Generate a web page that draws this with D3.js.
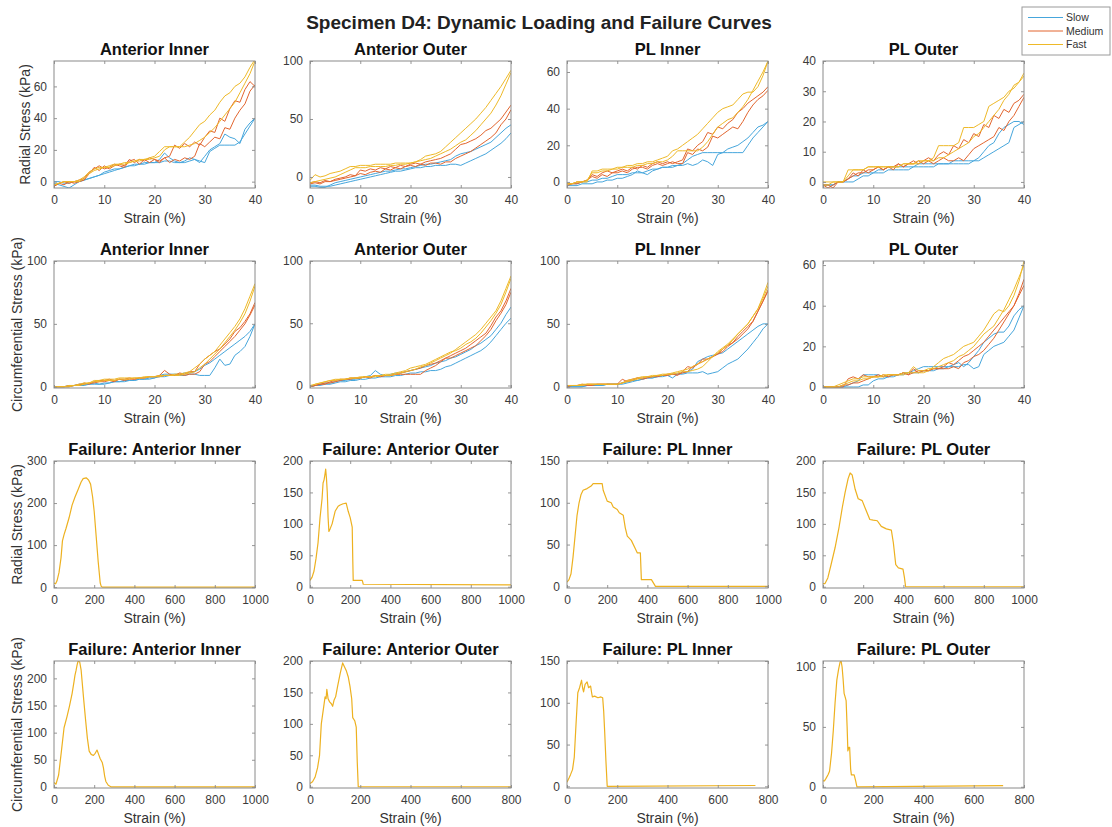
<!DOCTYPE html>
<html>
<head>
<meta charset="utf-8">
<script src="https://cdn.jsdelivr.net/npm/d3@7"></script>
<style>
  body { margin: 0; background: #fff; }
  svg { display: block; font-family: "Liberation Sans", Arial, Helvetica, sans-serif; }
</style>
</head>
<body>
<svg id="fig" width="1112" height="827"></svg>
<script>
// ---------------- Loading tests: strain grid (%) ----------------
const strainLoading = [0,1,2,3,4,5,6,7,8,9,10,11,12,13,14,15,16,17,18,19,20,21,22,23,24,25,26,27,28,29,30,31,32,33,34,35,36,37,38,39,40];

// Radial stress (kPa), Anterior Inner
const radAntInnerSlow1 = [-1,-2,-3,-4,-2,0,1,2,3,4,6,7,8,8,9,10,11,11,12,12,12,14,18,15,13,12,12,13,14,13,12,19,21,23,23,23,23,25,30,35,40];
const radAntInnerSlow2 = [0,0,-1,-1,0,0,1,2,3,4,5,6,7,8,9,10,10,11,11,12,12,12,13,13,12,12,13,15,14,12,16,20,22,24,30,28,27,24,33,37,40];
const radAntInnerMed1  = [-3,-1,-2,0,-1,0,1,5,9,7,10,8,10,11,10,14,12,14,13,15,14,12,15,16,23,21,24,22,25,23,28,32,31,40,38,46,51,50,58,63,60];
const radAntInnerMed2  = [-3,-1,0,-1,0,1,2,6,8,10,8,9,11,10,9,13,14,11,14,12,14,13,15,12,14,13,15,14,16,24,22,25,28,27,34,33,40,45,49,57,61];
const radAntInnerFast1 = [-2,-1,0,0,0,1,3,6,8,9,9,10,11,11,12,12,13,14,14,15,16,19,22,22,22,22,25,28,32,36,38,42,45,50,54,56,60,62,66,72,77];
const radAntInnerFast2 = [-2,-1,0,0,0,0,2,5,7,8,9,9,10,11,11,12,13,13,14,14,15,16,20,22,22,22,22,23,24,26,28,31,34,38,42,46,50,56,62,68,76];

// Radial stress (kPa), Anterior Outer
const radAntOuterSlow1 = [-8,-8,-9,-9,-7,-5,-4,-3,-2,-1,0,1,2,3,4,5,5,6,7,7,8,9,10,11,11,12,13,14,15,18,20,21,22,24,26,28,30,34,38,42,45];
const radAntOuterSlow2 = [-7,-7,-8,-8,-8,-7,-6,-5,-4,-3,-2,-1,0,1,2,3,4,5,5,6,7,8,8,9,9,10,10,10,11,11,10,12,14,16,18,20,23,26,29,33,38];
const radAntOuterMed1  = [-5,-4,-5,-3,-4,-2,-1,0,2,1,6,5,7,6,8,7,9,8,10,9,11,12,11,13,14,15,16,18,20,24,28,29,31,33,36,40,42,46,50,56,62];
const radAntOuterMed2  = [-6,-5,-6,-4,-4,-3,-2,-1,0,1,3,2,4,5,4,7,6,8,7,9,10,9,11,10,12,12,11,13,13,16,18,20,22,25,28,31,34,38,45,50,58];
const radAntOuterFast1 = [-3,2,0,1,3,4,5,7,9,9,10,10,10,11,11,11,11,12,12,12,12,13,15,18,19,20,22,26,30,34,38,42,46,50,55,60,66,72,78,85,92];
const radAntOuterFast2 = [-5,-4,-3,-2,-1,0,2,4,6,8,8,8,9,9,9,9,10,10,11,11,12,13,14,15,16,18,20,22,24,27,30,32,36,40,45,50,55,62,70,80,90];

// Radial stress (kPa), PL Inner
const radPLInnerSlow1 = [-2,-2,-2,-1,-1,-1,0,0,1,1,2,2,3,4,6,5,4,6,7,8,8,8,9,9,10,9,10,12,11,9,15,16,18,19,20,22,24,27,30,31,33];
const radPLInnerSlow2 = [-1,-1,-1,0,0,1,1,2,2,3,4,4,4,5,5,5,6,7,7,8,8,9,9,10,12,14,15,16,16,16,16,16,16,16,16,16,20,24,27,30,33];
const radPLInnerMed1  = [-2,-1,-1,0,1,4,3,5,6,5,6,7,6,8,7,9,8,10,11,10,11,10,11,12,18,17,20,22,27,26,30,29,32,34,38,40,43,45,47,49,52];
const radPLInnerMed2  = [-1,-1,0,0,1,3,2,4,3,5,5,6,5,7,8,8,7,9,10,9,10,11,10,10,16,15,18,17,19,25,24,26,28,30,29,33,38,42,45,47,50];
const radPLInnerFast1 = [-1,-1,0,0,0,6,6,7,7,7,8,8,9,9,10,10,11,11,12,13,14,17,18,20,22,24,26,29,32,35,38,40,41,42,45,48,49,49,52,58,66];
const radPLInnerFast2 = [-1,-1,0,0,1,5,5,6,6,7,7,8,8,8,9,9,10,10,11,11,12,14,17,17,17,17,17,19,22,26,30,32,34,35,38,41,45,50,55,60,66];

// Radial stress (kPa), PL Outer
const radPLOuterSlow1 = [-1,-1,-1,0,0,1,2,2,3,3,3,4,4,5,5,5,5,5,5,6,6,6,6,6,6,6,7,7,7,7,7,7,8,9,10,11,12,13,18,19,20];
const radPLOuterSlow2 = [-1,-1,-1,0,0,0,0,1,2,2,3,3,3,4,4,4,4,4,5,5,5,5,5,6,6,6,6,6,6,6,7,8,10,12,13,16,18,19,20,20,19];
const radPLOuterMed1  = [-1,-2,-1,0,0,1,3,2,4,3,4,5,4,5,4,6,5,6,7,6,7,8,7,9,10,9,12,11,14,13,16,15,19,18,22,21,24,23,26,27,29];
const radPLOuterMed2  = [-1,-1,-2,0,0,1,2,3,3,4,4,5,4,5,5,6,5,6,6,7,6,7,6,7,8,7,7,8,7,9,11,12,13,14,15,18,17,20,22,25,28];
const radPLOuterFast1 = [-1,-1,0,0,0,4,4,4,4,5,5,5,5,5,5,5,6,6,6,6,7,7,8,12,12,12,12,13,18,18,18,19,20,25,26,27,28,30,31,33,36];
const radPLOuterFast2 = [0,0,0,0,0,2,4,4,4,5,5,5,5,5,5,5,6,6,6,7,7,7,7,8,8,9,10,11,12,13,15,16,18,20,22,24,27,29,32,33,35];

// Circumferential stress (kPa), Anterior Inner
const circAntInnerSlow1 = [0,0,0,1,1,2,2,2,3,2,2,3,4,4,5,5,5,6,6,7,7,8,8,9,9,9,9,10,10,9,9,9,15,22,17,18,25,28,32,40,50];
const circAntInnerSlow2 = [0,0,0,0,1,1,1,2,2,2,3,3,4,4,4,5,5,6,6,6,7,9,10,10,10,10,11,11,12,14,17,19,22,25,28,31,34,37,40,44,50];
const circAntInnerMed1  = [0,0,0,1,1,1,3,2,4,5,5,6,5,6,6,7,6,7,7,8,8,9,13,10,9,11,10,12,12,18,22,25,28,30,34,38,44,47,52,58,67];
const circAntInnerMed2  = [0,0,0,0,1,2,2,3,3,4,4,5,4,6,5,6,6,7,7,8,8,8,9,9,9,10,9,10,10,12,18,20,24,28,32,36,40,45,50,57,65];
const circAntInnerFast1 = [0,0,0,0,1,1,2,3,5,5,6,6,6,7,7,7,7,7,8,8,8,9,9,9,10,10,11,12,15,18,22,25,28,33,38,43,48,54,62,72,82];
const circAntInnerFast2 = [0,0,0,1,1,2,3,3,4,4,5,5,5,6,6,6,7,7,7,8,8,8,9,9,9,9,10,11,12,15,18,22,26,30,35,40,45,51,58,68,80];

// Circumferential stress (kPa), Anterior Outer
const circAntOuterSlow1 = [-1,0,1,2,2,3,4,4,5,5,6,7,8,12,9,8,9,10,10,11,12,13,14,15,16,18,19,20,22,23,25,27,29,32,34,37,40,45,50,57,63];
const circAntOuterSlow2 = [-1,0,0,1,1,2,3,3,4,4,5,5,6,6,7,7,7,8,8,9,10,10,11,11,12,12,13,15,16,18,20,22,24,26,28,31,35,40,45,50,54];
const circAntOuterMed1  = [-1,0,1,2,2,3,4,5,5,6,6,7,6,8,7,8,8,9,10,11,12,13,14,16,17,18,20,22,24,26,28,30,33,36,39,42,48,55,60,68,78];
const circAntOuterMed2  = [-1,0,1,1,3,4,5,5,6,6,6,7,7,8,8,8,8,9,9,9,9,9,9,12,14,16,19,22,22,24,26,28,30,32,36,40,45,52,58,65,75];
const circAntOuterFast1 = [-1,1,2,3,4,4,5,5,6,6,6,7,7,7,8,8,8,9,10,11,12,13,15,16,18,20,22,24,26,29,32,35,38,41,45,50,55,60,68,78,88];
const circAntOuterFast2 = [0,1,2,3,4,5,5,5,6,6,7,7,7,8,8,9,9,10,11,12,14,15,16,17,19,21,23,25,27,28,30,33,35,38,42,47,52,58,65,75,86];

// Circumferential stress (kPa), PL Inner
const circPLInnerSlow1 = [0,0,0,0,1,1,1,1,2,2,2,3,4,5,5,6,7,7,8,8,9,7,10,11,12,14,20,22,24,25,26,27,30,33,36,39,42,45,48,50,50];
const circPLInnerSlow2 = [0,0,0,0,1,1,1,1,2,2,2,2,3,4,5,6,7,7,8,9,9,10,10,10,11,11,11,12,10,11,12,15,18,20,22,26,30,35,40,46,50];
const circPLInnerMed1  = [1,1,1,2,1,1,2,2,2,2,2,6,4,5,7,6,7,8,8,9,10,10,9,12,16,15,18,20,22,24,26,30,33,35,38,42,46,52,60,68,77];
const circPLInnerMed2  = [0,1,1,1,2,2,2,2,2,2,2,3,5,6,7,7,8,8,9,9,9,10,10,11,12,16,18,22,22,24,26,28,32,35,40,44,48,52,60,68,76];
const circPLInnerFast1 = [1,1,1,2,2,2,2,2,2,2,2,3,4,5,6,7,8,8,9,9,10,11,12,13,14,16,18,20,22,24,27,30,33,37,42,46,50,56,62,72,83];
const circPLInnerFast2 = [1,1,1,1,2,2,2,2,2,2,2,3,5,6,7,8,8,9,9,10,10,10,11,12,12,13,14,16,20,24,28,31,34,38,42,46,50,56,62,70,80];

// Circumferential stress (kPa), PL Outer
const circPLOuterSlow1 = [0,0,0,0,0,1,2,3,6,6,6,6,5,5,6,6,7,7,8,9,10,10,10,10,10,10,11,12,10,12,15,18,22,24,26,27,27,30,35,38,40];
const circPLOuterSlow2 = [0,0,0,0,0,0,0,0,1,1,3,4,4,5,5,6,6,7,7,7,8,8,8,9,9,10,10,10,11,11,9,10,16,18,20,21,22,25,28,34,40];
const circPLOuterMed1  = [0,0,0,0,0,4,5,4,6,5,5,6,5,6,6,6,7,6,9,7,8,8,9,9,10,12,11,13,15,16,18,20,22,25,28,31,34,37,40,46,53];
const circPLOuterMed2  = [0,0,0,0,1,1,2,2,3,4,5,5,6,5,6,6,7,6,7,8,8,8,9,9,9,9,10,9,12,13,15,16,18,21,24,28,32,36,40,45,50];
const circPLOuterFast1 = [0,0,0,0,1,2,3,3,4,4,5,5,5,6,6,6,6,7,7,7,7,8,10,12,14,15,16,18,20,21,22,25,28,32,36,38,37,40,45,52,62];
const circPLOuterFast2 = [0,0,0,1,2,3,4,4,5,5,5,5,6,6,6,6,7,7,10,8,8,9,9,10,11,12,13,15,16,18,20,23,26,28,30,34,38,43,48,54,60];

// ---------------- Failure tests ----------------
const failRadAntInnerStrain = [0,8,15,25,35,42,50,60,75,90,105,120,135,145,160,172,182,192,200,210,220,230,235,240,1000];
const failRadAntInnerStress = [10,8,15,35,70,110,125,140,165,195,215,232,250,258,260,255,245,215,180,120,60,10,2,0,0];

const failRadAntOuterStrain = [0,10,20,30,40,50,60,65,70,75,78,82,86,90,94,100,110,125,140,150,165,180,190,200,210,213,215,260,265,1000];
const failRadAntOuterStress = [10,15,25,45,70,110,140,165,170,180,187,172,150,110,88,92,100,120,128,130,132,133,120,110,95,40,10,10,4,3];

const failRadPLInnerStrain = [0,10,20,30,40,50,60,70,80,100,120,130,150,175,180,200,220,230,250,260,280,290,300,320,340,350,365,370,420,435,440,1000];
const failRadPLInnerStress = [5,8,15,35,60,85,100,110,115,117,120,123,123,123,115,102,100,95,92,88,85,70,60,55,45,40,40,8,8,2,0,0];

const failRadPLOuterStrain = [0,10,24,40,60,80,96,110,125,135,145,160,175,195,210,233,250,270,290,315,340,350,362,375,398,405,411,1000];
const failRadPLOuterStress = [5,5,14,35,62,95,126,150,172,181,178,155,140,137,125,107,106,105,96,92,90,70,35,30,28,15,0,0];

const failCircAntInnerStrain = [0,10,23,35,50,65,77,90,100,104,110,115,120,128,135,148,158,166,175,185,196,205,214,222,230,240,246,252,258,270,285,1000];
const failCircAntInnerStress = [8,5,22,60,109,130,149,172,195,205,215,225,232,230,215,160,120,90,66,60,58,62,68,60,52,45,35,20,10,3,0,0];

const failCircAntOuterStrain = [0,10,20,30,38,45,52,60,64,67,72,78,85,90,96,102,110,120,130,138,145,152,159,166,170,178,184,188,192,800];
const failCircAntOuterStress = [5,8,15,30,50,100,120,143,140,155,140,135,132,128,138,143,160,180,197,190,184,175,160,140,110,105,95,40,0,0];

const failCircPLInnerStrain = [0,8,14,22,29,36,43,50,58,62,66,72,80,86,94,98,101,110,123,135,142,146,150,155,160,750];
const failCircPLInnerStress = [5,10,14,20,35,75,112,118,127,118,113,122,125,118,120,112,107,108,106,107,106,90,65,30,0,1];

const failCircPLOuterStrain = [0,6,12,20,26,34,41,48,55,62,68,72,76,80,84,88,92,96,99,103,106,110,113,124,130,135,717];
const failCircPLOuterStress = [5,5,7,10,13,28,47,70,89,98,104,105,100,90,78,75,72,50,30,33,33,15,10,10,5,0,1];

// ---------------- Labels ----------------
const figureTitle = "Specimen D4: Dynamic Loading and Failure Curves";
const regionNames = ["Anterior Inner", "Anterior Outer", "PL Inner", "PL Outer"];
const rateNames = ["Slow", "Medium", "Fast"];
const rowYLabels = ["Radial Stress (kPa)", "Circumferential Stress (kPa)", "Radial Stress (kPa)", "Circumferential Stress (kPa)"];
const xLabel = "Strain (%)";

const loadTicks = [0, 10, 20, 30, 40];
const failTicks1000 = [0, 200, 400, 600, 800, 1000];
const failTicks800 = [0, 200, 400, 600, 800];

// ---------------- Styling ----------------
const rateColors = { Slow: "#46a6dc", Medium: "#e2652f", Fast: "#eeb928" };
const failColor = "#edb120";

// ---------------- Panel table ----------------
const loadingSets = [
  [radAntInnerSlow1, radAntInnerSlow2, radAntInnerMed1, radAntInnerMed2, radAntInnerFast1, radAntInnerFast2],
  [radAntOuterSlow1, radAntOuterSlow2, radAntOuterMed1, radAntOuterMed2, radAntOuterFast1, radAntOuterFast2],
  [radPLInnerSlow1, radPLInnerSlow2, radPLInnerMed1, radPLInnerMed2, radPLInnerFast1, radPLInnerFast2],
  [radPLOuterSlow1, radPLOuterSlow2, radPLOuterMed1, radPLOuterMed2, radPLOuterFast1, radPLOuterFast2],
  [circAntInnerSlow1, circAntInnerSlow2, circAntInnerMed1, circAntInnerMed2, circAntInnerFast1, circAntInnerFast2],
  [circAntOuterSlow1, circAntOuterSlow2, circAntOuterMed1, circAntOuterMed2, circAntOuterFast1, circAntOuterFast2],
  [circPLInnerSlow1, circPLInnerSlow2, circPLInnerMed1, circPLInnerMed2, circPLInnerFast1, circPLInnerFast2],
  [circPLOuterSlow1, circPLOuterSlow2, circPLOuterMed1, circPLOuterMed2, circPLOuterFast1, circPLOuterFast2]
];
const seriesRates = ["Slow", "Slow", "Medium", "Medium", "Fast", "Fast"];

const failureSets = [
  [failRadAntInnerStrain, failRadAntInnerStress],
  [failRadAntOuterStrain, failRadAntOuterStress],
  [failRadPLInnerStrain, failRadPLInnerStress],
  [failRadPLOuterStrain, failRadPLOuterStress],
  [failCircAntInnerStrain, failCircAntInnerStress],
  [failCircAntOuterStrain, failCircAntOuterStress],
  [failCircPLInnerStrain, failCircPLInnerStress],
  [failCircPLOuterStrain, failCircPLOuterStress]
];

// axis limits per panel (row-major)
const yLimits = [
  [-4, 76], [-9.5, 100], [-3.3, 66], [-2, 40],
  [-1, 100], [-2, 100], [-1, 100], [-0.5, 62],
  [-2, 300], [-2, 200], [-2, 150], [-2, 200],
  [-2, 232], [-2, 200], [-2, 150], [-1, 105]
];
const yTickSets = [
  [0, 20, 40, 60], [0, 50, 100], [0, 20, 40, 60], [0, 10, 20, 30, 40],
  [0, 50, 100], [0, 50, 100], [0, 50, 100], [0, 20, 40, 60],
  [0, 100, 200, 300], [0, 50, 100, 150, 200], [0, 50, 100, 150], [0, 50, 100, 150, 200],
  [0, 50, 100, 150, 200], [0, 50, 100, 150, 200], [0, 50, 100, 150], [0, 50, 100]
];
const xLimits = [
  [0, 40], [0, 40], [0, 40], [0, 40],
  [0, 40], [0, 40], [0, 40], [0, 40],
  [0, 1000], [0, 1000], [0, 1000], [0, 1000],
  [0, 1000], [0, 800], [0, 800], [0, 800]
];
const xTickSets = [
  loadTicks, loadTicks, loadTicks, loadTicks,
  loadTicks, loadTicks, loadTicks, loadTicks,
  failTicks1000, failTicks1000, failTicks1000, failTicks1000,
  failTicks1000, failTicks800, failTicks800, failTicks800
];

// ---------------- Layout ----------------
const PW = 201, PH = 127;
const colX = [54, 310, 567, 823];
const rowY = [61, 261, 461, 661];
const yLabelX = [30, 22, 22, 22];

const svg = d3.select("#fig");
svg.append("rect").attr("width", 1112).attr("height", 827).attr("fill", "#fff");

const axisColor = "#8a8a8a";
const tickText = "#3b3b3b";
const fmt = d3.format("d");

function styleAxis(g) {
  g.select(".domain").remove();
  g.selectAll(".tick line").attr("stroke", axisColor).attr("stroke-width", 0.9);
  g.selectAll(".tick text").attr("fill", tickText).attr("font-size", 12);
}

for (let r = 0; r < 4; r++) {
  for (let c = 0; c < 4; c++) {
    const idx = r * 4 + c;
    const g = svg.append("g").attr("transform", `translate(${colX[c]},${rowY[r]})`);
    const x = d3.scaleLinear().domain(xLimits[idx]).range([0, PW]);
    const y = d3.scaleLinear().domain(yLimits[idx]).range([PH, 0]);

    const clipId = "clip" + idx;
    g.append("clipPath").attr("id", clipId).append("rect").attr("width", PW).attr("height", PH);
    const plot = g.append("g").attr("clip-path", `url(#${clipId})`);

    if (r < 2) {
      const series = loadingSets[idx];
      series.forEach((vals, k) => {
        const pts = strainLoading.map((s, j) => [s, vals[j]]);
        plot.append("path")
          .attr("d", d3.line().x(d => x(d[0])).y(d => y(d[1]))(pts))
          .attr("fill", "none")
          .attr("stroke", rateColors[seriesRates[k]])
          .attr("stroke-width", 1)
          .attr("stroke-linejoin", "round");
      });
    } else {
      const [sx, sy] = failureSets[idx - 8];
      const pts = sx.map((s, j) => [s, sy[j]]);
      plot.append("path")
        .attr("d", d3.line().x(d => x(d[0])).y(d => y(d[1]))(pts))
        .attr("fill", "none")
        .attr("stroke", failColor)
        .attr("stroke-width", 1.2)
        .attr("stroke-linejoin", "round");
    }

    // ticks on all four sides, pointing inward
    g.append("g").attr("transform", `translate(0,${PH})`)
      .call(d3.axisBottom(x).tickValues(xTickSets[idx]).tickFormat(fmt).tickSizeInner(-3).tickSizeOuter(0).tickPadding(7))
      .call(styleAxis);
    g.append("g")
      .call(d3.axisTop(x).tickValues(xTickSets[idx]).tickSizeInner(-3).tickSizeOuter(0).tickFormat(""))
      .call(styleAxis);
    g.append("g")
      .call(d3.axisLeft(y).tickValues(yTickSets[idx]).tickFormat(fmt).tickSizeInner(-3).tickSizeOuter(0).tickPadding(7))
      .call(styleAxis);
    g.append("g").attr("transform", `translate(${PW},0)`)
      .call(d3.axisRight(y).tickValues(yTickSets[idx]).tickSizeInner(-3).tickSizeOuter(0).tickFormat(""))
      .call(styleAxis);

    g.append("rect").attr("width", PW).attr("height", PH)
      .attr("fill", "none").attr("stroke", axisColor).attr("stroke-width", 1);

    // panel title
    const title = (r >= 2 ? "Failure: " : "") + regionNames[c];
    g.append("text")
      .attr("x", PW / 2).attr("y", -6)
      .attr("text-anchor", "middle")
      .attr("font-size", 16.5).attr("font-weight", "bold").attr("fill", "#111")
      .text(title);

    // x label
    g.append("text")
      .attr("x", PW / 2).attr("y", PH + 35)
      .attr("text-anchor", "middle")
      .attr("font-size", 14).attr("fill", "#333")
      .text(xLabel);

    // y label on first column only
    if (c === 0) {
      svg.append("text")
        .attr("transform", `translate(${yLabelX[r]},${rowY[r] + PH / 2}) rotate(-90)`)
        .attr("text-anchor", "middle")
        .attr("font-size", 14).attr("fill", "#333")
        .text(rowYLabels[r]);
    }
  }
}

// figure title
svg.append("text")
  .attr("x", 539).attr("y", 29)
  .attr("text-anchor", "middle")
  .attr("font-size", 19).attr("font-weight", "bold").attr("fill", "#222")
  .text(figureTitle);

// legend
const leg = svg.append("g").attr("transform", "translate(1022,7)");
leg.append("rect").attr("width", 88).attr("height", 48)
  .attr("fill", "#fff").attr("stroke", "#9a9a9a").attr("stroke-width", 1);
rateNames.forEach((name, i) => {
  const yy = 10.5 + i * 13.5;
  leg.append("line").attr("x1", 6).attr("x2", 41).attr("y1", yy).attr("y2", yy)
    .attr("stroke", rateColors[name]).attr("stroke-width", 1);
  leg.append("text").attr("x", 44).attr("y", yy).attr("dy", "0.35em")
    .attr("font-size", 10.5).attr("fill", "#333").text(name);
});
</script>
</body>
</html>
